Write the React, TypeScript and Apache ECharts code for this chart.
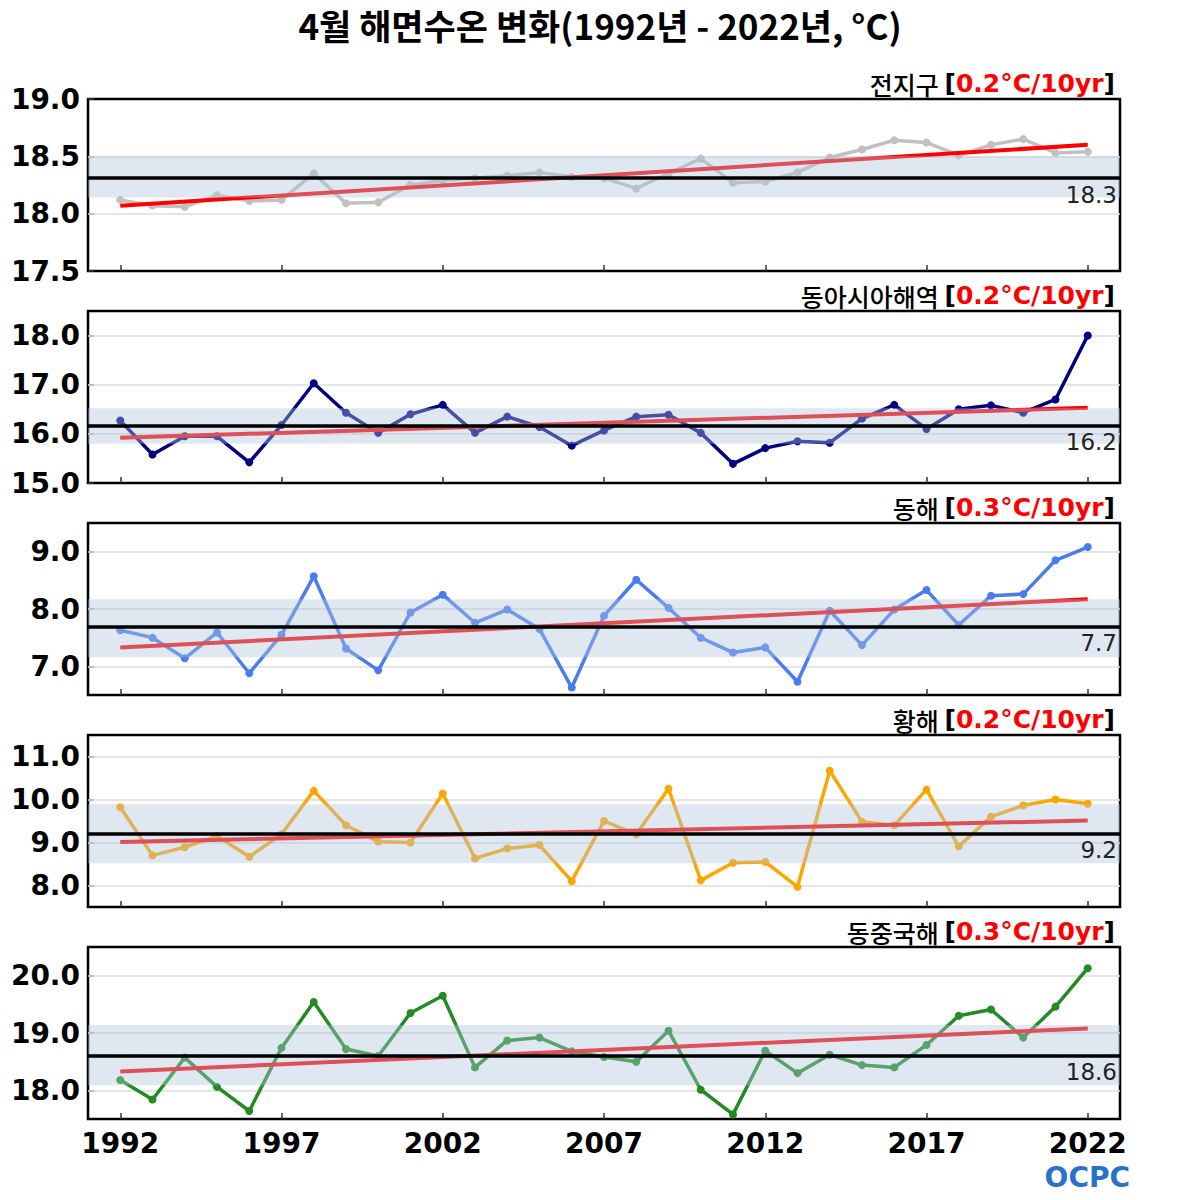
import React, { useEffect, useRef } from "react";
import * as echarts from "echarts";

const years = [1992, 1993, 1994, 1995, 1996, 1997, 1998, 1999, 2000, 2001, 2002, 2003, 2004, 2005, 2006, 2007, 2008, 2009, 2010, 2011, 2012, 2013, 2014, 2015, 2016, 2017, 2018, 2019, 2020, 2021, 2022];

const globalSST = [18.12, 18.07, 18.06, 18.16, 18.11, 18.12, 18.35, 18.09, 18.10, 18.25, 18.29, 18.31, 18.33, 18.36, 18.32, 18.31, 18.22, 18.35, 18.48, 18.27, 18.28, 18.36, 18.49, 18.56, 18.64, 18.62, 18.51, 18.60, 18.65, 18.53, 18.54];
const eastAsiaSST = [16.27, 15.58, 15.95, 15.95, 15.42, 16.18, 17.03, 16.43, 16.02, 16.40, 16.59, 16.02, 16.35, 16.14, 15.76, 16.07, 16.35, 16.39, 16.02, 15.39, 15.71, 15.85, 15.82, 16.31, 16.59, 16.10, 16.50, 16.58, 16.43, 16.70, 18.00];
const eastSeaSST = [7.63, 7.50, 7.14, 7.59, 6.88, 7.55, 8.57, 7.31, 6.93, 7.94, 8.25, 7.76, 7.99, 7.65, 6.63, 7.88, 8.51, 8.02, 7.50, 7.24, 7.33, 6.73, 7.97, 7.37, 7.99, 8.33, 7.72, 8.23, 8.26, 8.85, 9.08];
const yellowSeaSST = [9.82, 8.70, 8.89, 9.15, 8.67, 9.19, 10.20, 9.40, 9.02, 9.00, 10.14, 8.63, 8.86, 8.94, 8.10, 9.50, 9.19, 10.25, 8.12, 8.53, 8.55, 7.97, 10.67, 9.48, 9.40, 10.23, 8.91, 9.60, 9.86, 10.00, 9.90];
const eastChinaSeaSST = [18.18, 17.84, 18.57, 18.06, 17.64, 18.74, 19.54, 18.72, 18.60, 19.35, 19.65, 18.40, 18.87, 18.92, 18.68, 18.58, 18.50, 19.04, 18.01, 17.58, 18.69, 18.30, 18.62, 18.44, 18.40, 18.79, 19.30, 19.41, 18.92, 19.46, 20.13];

const regionNames = ["전지구", "동아시아해역", "동해", "황해", "동중국해"];
const trendRates = ["0.2", "0.2", "0.3", "0.2", "0.3"];
const meanValues = [18.31, 16.16, 7.69, 9.21, 18.61];
const bandLow = [18.14, 15.8, 7.16, 8.52, 18.09];
const bandHigh = [18.5, 16.52, 8.17, 9.89, 19.14];
const trendStart = [18.07, 15.92, 7.33, 9.01, 18.33];
const trendEnd = [18.6, 16.53, 8.17, 9.51, 19.08];
const yMins = [17.5, 15, 6.5, 7.5, 17.5];
const yMaxs = [19.0, 18.5, 9.5, 11.5, 20.5];
const yTicks = [
  [17.5, 18.0, 18.5, 19.0],
  [15, 16, 17, 18],
  [7, 8, 9],
  [8, 9, 10, 11],
  [18, 19, 20],
];
const xTicks = [1992, 1997, 2002, 2007, 2012, 2017, 2022];
const xMin = 1991;
const xMax = 2023;
const chartTitle = "4월 해면수온 변화(1992년 - 2022년, °C)";
const logoText = "OCPC";

const seriesValues = [globalSST, eastAsiaSST, eastSeaSST, yellowSeaSST, eastChinaSeaSST];
const lineColors = ["#c0c0c0", "#000080", "#4a7bf0", "#ffa500", "#228b22"];
const trendColors = ["#ff0000", "#ff0000", "#ff0000", "#ff0000", "#ff0000"];

const NUM_FONT = "DejaVu Sans, Verdana, sans-serif";
const KR_FONT = "Noto Sans CJK KR, sans-serif";

export default function App() {
  const ref = useRef<HTMLDivElement>(null);

  useEffect(() => {
    document.body.style.margin = "0";
    if (!ref.current) return;
    const chart = echarts.init(ref.current, null, { renderer: "svg" });

    const gridLeft = 88;
    const gridWidth = 1032;
    const gridHeight = 172;
    const gridTop0 = 99;
    const step = 212;

    const grids: any[] = [];
    const xAxes: any[] = [];
    const yAxes: any[] = [];
    const series: any[] = [];
    const titles: any[] = [
      {
        text: chartTitle,
        left: "center",
        top: 4,
        padding: 0,
        textStyle: { fontFamily: KR_FONT, fontWeight: "bold", fontSize: 35, color: "#000", lineHeight: 40 },
      },
    ];

    seriesValues.forEach((vals, i) => {
      const last = i === seriesValues.length - 1;
      grids.push({
        left: gridLeft,
        top: gridTop0 + step * i,
        width: gridWidth,
        height: gridHeight,
        show: true,
        borderColor: "#000",
        borderWidth: 2.5,
        backgroundColor: "transparent",
        containLabel: false,
      });
      xAxes.push({
        type: "value",
        gridIndex: i,
        min: xMin,
        max: xMax,
        axisLine: { show: false },
        splitLine: { show: false },
        axisTick: {
          show: true,
          inside: true,
          length: 6,
          customValues: xTicks,
          lineStyle: { color: "#333", width: 1.5 },
        },
        axisLabel: {
          show: last,
          customValues: xTicks,
          formatter: (v: number) => String(v),
          fontFamily: NUM_FONT,
          fontWeight: "bold",
          fontSize: 28,
          color: "#000",
          margin: 10,
        },
      });
      yAxes.push({
        type: "value",
        gridIndex: i,
        min: yMins[i],
        max: yMaxs[i],
        axisLine: { show: false },
        splitLine: { show: false },
        axisTick: {
          show: true,
          inside: true,
          length: 6,
          customValues: yTicks[i],
          lineStyle: { color: "#333", width: 1.5 },
        },
        axisLabel: {
          customValues: yTicks[i],
          formatter: (v: number) => v.toFixed(1),
          fontFamily: NUM_FONT,
          fontWeight: "bold",
          fontSize: 28,
          color: "#000",
          margin: 8,
        },
      });

      const innerTicks = yTicks[i].filter((v) => v > yMins[i] && v < yMaxs[i]);

      series.push({
        type: "line",
        xAxisIndex: i,
        yAxisIndex: i,
        z: 2,
        data: years.map((y, k) => [y, vals[k]]),
        symbol: "circle",
        symbolSize: 8,
        showSymbol: true,
        lineStyle: { color: lineColors[i], width: 3.5 },
        itemStyle: { color: lineColors[i] },
        silent: true,
        markLine: {
          z: 1,
          silent: true,
          symbol: ["none", "none"],
          label: { show: false },
          lineStyle: { color: "#dcdcdc", width: 1.5, type: "solid" },
          data: innerTicks.map((v) => ({ yAxis: v })),
        },
      });

      series.push({
        type: "line",
        xAxisIndex: i,
        yAxisIndex: i,
        z: 3,
        data: [
          [years[0], trendStart[i]],
          [years[years.length - 1], trendEnd[i]],
        ],
        symbol: "none",
        showSymbol: false,
        lineStyle: { color: trendColors[i], width: 4 },
        silent: true,
        markArea: {
          z: 4,
          silent: true,
          itemStyle: { color: "rgba(175,197,220,0.4)" },
          label: { show: false },
          data: [[{ yAxis: bandLow[i] }, { yAxis: bandHigh[i] }]],
        },
        markLine: {
          z: 5,
          silent: true,
          symbol: ["none", "none"],
          lineStyle: { color: "#000", width: 3.5, type: "solid" },
          label: {
            show: true,
            position: "insideEndBottom",
            formatter: () => meanValues[i].toFixed(1),
            fontFamily: NUM_FONT,
            fontSize: 23,
            color: "#222",
            distance: [3, 5],
          },
          data: [{ yAxis: meanValues[i] }],
        },
      });

      titles.push({
        text: `{k|${regionNames[i]} }{b|[}{r|${trendRates[i]}°C/10yr}{b|]}`,
        right: 80,
        top: 66 + step * i,
        textStyle: {
          rich: {
            k: { fontFamily: KR_FONT, fontWeight: 500, fontSize: 25, color: "#000" },
            b: { fontFamily: NUM_FONT, fontWeight: "bold", fontSize: 25, color: "#000" },
            r: { fontFamily: NUM_FONT, fontWeight: "bold", fontSize: 25, color: "#ff0000" },
          },
        },
      });
    });

    chart.setOption({
      animation: false,
      backgroundColor: "#fff",
      title: titles,
      grid: grids,
      xAxis: xAxes,
      yAxis: yAxes,
      series,
      graphic: [
        {
          type: "text",
          right: 70,
          top: 1163,
          style: {
            text: logoText,
            fontFamily: NUM_FONT,
            fontWeight: "bold",
            fontSize: 28,
            fill: "#2a72c8",
          },
        },
      ],
    });

    return () => chart.dispose();
  }, []);

  return <div ref={ref} style={{ width: 1200, height: 1200 }} />;
}
